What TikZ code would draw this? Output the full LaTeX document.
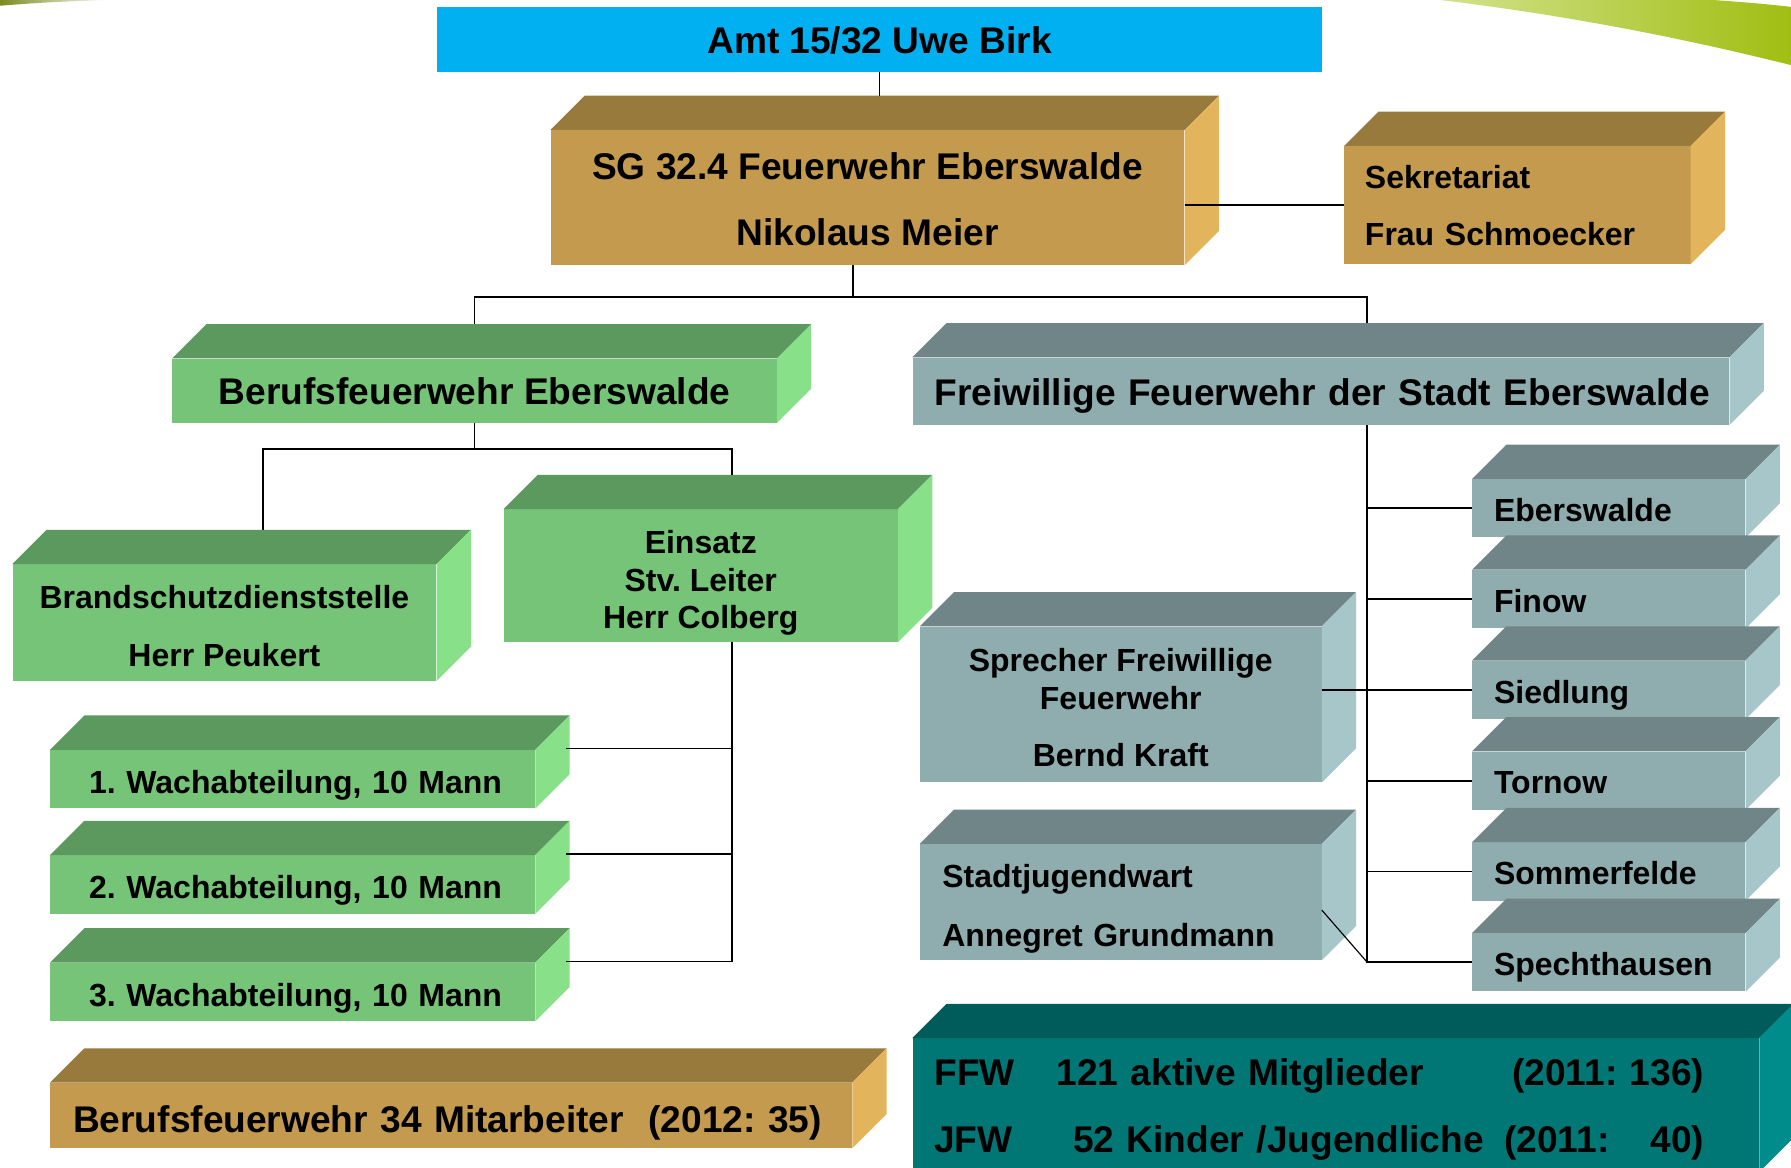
\documentclass[tikz,border=0pt]{standalone}
\usepackage{fontspec}
\setmainfont{Liberation Sans}
\usetikzlibrary{calc}
\frenchspacing

\definecolor{amtblue}{HTML}{00B0F0}
\definecolor{tanfront}{HTML}{C49B4E}
\definecolor{tantop}{HTML}{997A3D}
\definecolor{tanside}{HTML}{E2B45C}
\definecolor{greenfront}{HTML}{75C478}
\definecolor{greentop}{HTML}{5C995E}
\definecolor{greenside}{HTML}{88E088}
\definecolor{grayfront}{HTML}{8FADAF}
\definecolor{graytop}{HTML}{708587}
\definecolor{grayside}{HTML}{A6C6C9}
\definecolor{tealfront}{HTML}{007775}
\definecolor{tealtop}{HTML}{005C5A}
\definecolor{tealside}{HTML}{008C8A}
\definecolor{swooshlight}{HTML}{D2E28E}
\definecolor{swooshdark}{HTML}{A0BE12}
\definecolor{olivetip}{HTML}{7B8B1F}

% depth of the 3d boxes
\def\dep{30}
% top and side face of a box node
\newcommand{\cubefaces}[2]{%
  \fill[#2top] (#1.north west) -- ++(\dep,-\dep) -- ([shift={(\dep,-\dep)}]#1.north east) -- (#1.north east) -- cycle;
  \fill[#2side] (#1.north east) -- ++(\dep,-\dep) -- ([shift={(\dep,-\dep)}]#1.south east) -- (#1.south east) -- cycle;
}

\tikzset{
  face/.style={rectangle, inner sep=0pt, text height=24pt, text depth=0pt,
    font=\bfseries\fontsize{28}{51}\selectfont},
  bigface/.style={face, text height=24.3pt, font=\bfseries\fontsize{32.5}{58}\selectfont},
  conn/.style={line width=1.5pt},
}

\begin{document}
\begin{tikzpicture}[x=1pt, y=-1pt]

  % -- page and background swoosh --
  \useasboundingbox (0,0) rectangle (1568,1022);
  \fill[white] (0,0) rectangle (1568,1022);
  \shade[left color=swooshlight, right color=swooshdark]
    (1261,0) .. controls (1360,12) and (1460,30) .. (1568,57)
    -- (1568,6) .. controls (1540,3) .. (1500,0) -- cycle;
  \shade[left color=olivetip, right color=white]
    (0,0) -- (95,0) .. controls (40,2) .. (0,5) -- cycle;

  % -- top: office and fire brigade management --
  \node[bigface, fill=amtblue, minimum width=774pt, minimum height=57pt] (amt) at (770,34.5) {Amt 15/32 Uwe Birk};

  \node[bigface, fill=tanfront, minimum width=555pt, minimum height=118pt, align=center, text height=84.3pt] (sg) at (759.5,173)
    {SG 32.4 Feuerwehr Eberswalde\\Nikolaus Meier};
  \cubefaces{sg}{tan}

  \node[face, fill=tanfront, minimum width=303pt, minimum height=103pt, text width=267pt, inner xsep=18pt,
    align=left, text height=21pt, text depth=50pt, font=\bfseries\fontsize{28}{50}\selectfont] (sek) at (1328.5,179.5)
    {Sekretariat\\Frau Schmoecker};
  \cubefaces{sek}{tan}

  % -- professional fire brigade (left) --
  \node[bigface, fill=greenfront, minimum width=529pt, minimum height=56pt] (bf) at (415.5,342) {Berufsfeuerwehr Eberswalde};
  \cubefaces{bf}{green}

  \node[face, fill=greenfront, minimum width=371pt, minimum height=102pt, align=center, text height=77pt] (bsd) at (196.5,545)
    {Brandschutzdienststelle\\Herr Peukert};
  \cubefaces{bsd}{green}

  \node[face, fill=greenfront, minimum width=345pt, minimum height=116pt, align=center, text height=93pt,
    font=\bfseries\fontsize{28}{33}\selectfont] (ein) at (613.5,504)
    {Einsatz\\Stv. Leiter\\Herr Colberg};
  \cubefaces{ein}{green}

  \foreach \nm/\yc [count=\i] in {wa1/682.1, wa2/774.3, wa3/868.35} {
    \node[face, fill=greenfront, minimum width=424.5pt, minimum height=51pt, text width=356.5pt, inner xsep=34pt,
      align=left, text height=25pt] (\nm) at (256.25,\yc) {\mbox{\i. Wachabteilung, 10 Mann}};
    \cubefaces{\nm}{green}
  }

  \node[bigface, fill=tanfront, minimum width=702pt, minimum height=57pt, text width=662pt, inner xsep=20pt,
    align=left, text height=30.3pt] (mit) at (395,976.5) {\mbox{Berufsfeuerwehr 34 Mitarbeiter\ \ (2012: 35)}};
  \cubefaces{mit}{tan}

  % -- volunteer fire brigade (right) --
  \node[bigface, fill=grayfront, minimum width=715pt, minimum height=59pt, text width=677pt, inner xsep=19pt,
    align=left] (ffw) at (1156.5,342.5) {\mbox{Freiwillige Feuerwehr der Stadt Eberswalde}};
  \cubefaces{ffw}{gray}

  \node[face, fill=grayfront, minimum width=351.5pt, minimum height=136.4pt, align=center, text height=108pt,
    font=\bfseries\fontsize{28}{33}\selectfont] (spr) at (981.25,616.8)
    {Sprecher Freiwillige\\Feuerwehr\\[17pt]Bernd Kraft};
  \cubefaces{spr}{gray}

  \node[face, fill=grayfront, minimum width=351.5pt, minimum height=101.5pt, text width=312.5pt, inner xsep=19.5pt,
    align=left, text height=26pt, text depth=51pt] (sjw) at (981.25,789.75) {Stadtjugendwart\\Annegret Grundmann};
  \cubefaces{sjw}{gray}

  \foreach \nm/\txt [count=\i from 0] in {ebw/Eberswalde, fin/Finow, sie/Siedlung, tor/Tornow, som/Sommerfelde, spe/Spechthausen} {
    \node[face, fill=grayfront, minimum width=239pt, minimum height=51pt, text width=201pt, inner xsep=19pt,
      align=left, text height=23pt] (\nm) at (1408.5,{445+79.5*\i}) {\txt};
    \cubefaces{\nm}{gray}
  }

  \node[bigface, fill=tealfront, minimum width=741pt, minimum height=117pt, text width=703pt, inner xsep=19pt,
    align=left, text depth=59pt, font=\bfseries\fontsize{32.5}{59}\selectfont] (mem) at (1169.5,967.5)
    {\makebox[107pt][l]{FFW}\makebox[567pt][l]{121 aktive Mitglieder\hfill(2011: 136)}\\
     \makebox[107pt][l]{JFW}\makebox[567pt][l]{\hspace{14.6pt}52 Kinder /Jugendliche\hfill(2011:\hspace{36pt}40)}};
  \cubefaces{mem}{teal}

  % -- connectors --
  \coordinate (sg-in) at ([shift={(10.5,-\dep)}]sg.north);
  \draw[conn, line width=1pt] (amt.south) -- (sg-in);
  \draw[conn] (sg.east |- sek.west) -- (sek.west);

  \coordinate (sg-out) at ([shift={(-13,0)}]sg.south);
  \coordinate (bf-in) at ([shift={(0,-\dep)}]bf.north);
  \coordinate (ffw-in) at ([shift={(40.5,-\dep)}]ffw.north);
  \draw[conn] (sg-out) -- ++(0,28) -| (bf-in);
  \draw[conn] (sg-out) ++(0,28) -| (ffw-in);

  \coordinate (bsd-in) at ([shift={(33.5,-\dep)}]bsd.north);
  \coordinate (ein-in) at ([shift={(27.5,-\dep)}]ein.north);
  \draw[conn] (bf.south) -- ++(0,23) -| (bsd-in);
  \draw[conn] (bf.south) ++(0,23) -| (ein-in);

  \coordinate (ein-out) at ([shift={(27.5,0)}]ein.south);
  \draw[conn] (ein-out) |- ([shift={(27,-1)}]wa3.north east);
  \foreach \nm in {wa1,wa2}
    \draw[conn] ([shift={(27,-1)}]\nm.north east) -| (ein-out);

  \coordinate (ffw-out) at ([shift={(40.5,0)}]ffw.south);
  \draw[conn] (ffw-out) |- (spe.west);
  \foreach \nm in {ebw,fin,sie,tor,som}
    \draw[conn] (ffw-out |- \nm.west) -- (\nm.west);
  \draw[conn] (spr.east |- sie.west) -- (sie.west);
  \draw[conn, line width=1pt] ([shift={(0,7)}]sjw.east) -- (ffw-out |- spe.west);

\end{tikzpicture}
\end{document}
